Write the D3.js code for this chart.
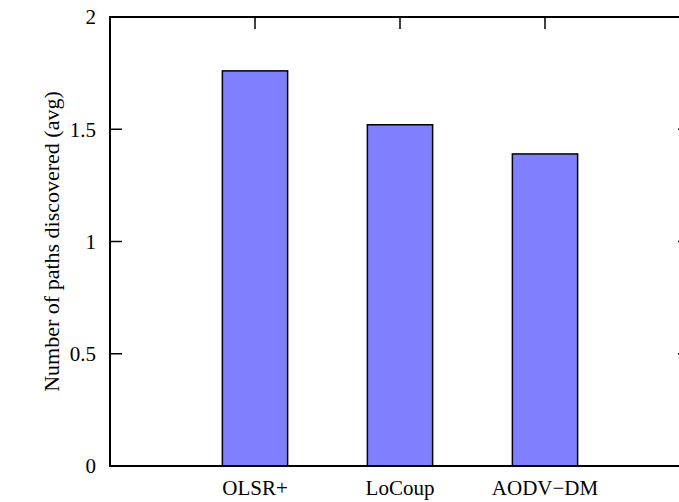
<!DOCTYPE html>
<html lang="en">
  <head>
    <meta charset="UTF-8">
    <script type="text/javascript" src="https://cdn.jsdelivr.net/npm/d3@7"></script>
    <title>Paths discovered</title>
    <style>
      html, body { margin: 0; padding: 0; background: #fff; overflow: hidden; }
      svg { display: block; }
      text { font-family: "Liberation Serif", "Times New Roman", serif; fill: #000; }
    </style>
  </head>
  <body>
    <script type="text/javascript">
      let w = 679;
      let h = 502;

      // data
      let protocols = ['OLSR+', 'LoCoup', 'AODV\u2212DM'];
      let paths = [1.76, 1.52, 1.39];
      let yTicks = [0, 0.5, 1, 1.5, 2];

      // plot area: x runs 0..4, right border falls just outside the window
      let plotLeft = 110, plotRight = 690, plotTop = 17, plotBottom = 466;
      let tickLen = 12;
      let fontSize = 21;

      let xScale = d3.scaleLinear()
                      .domain([0, 4])
                      .range([plotLeft, plotRight]);
      let yScale = d3.scaleLinear()
                      .domain([0, 2])
                      .range([plotBottom, plotTop]);
      let barW = 0.45;

      let svg = d3.select('body')
                  .append('svg')
                  .attr('width', w)
                  .attr('height', h)
                  .attr('viewBox', '0 0 ' + w + ' ' + h)
                  .style('overflow', 'hidden');

      // bars
      svg.selectAll('rect.bar')
          .data(paths)
          .enter()
          .append('rect')
          .attr('class', 'bar')
          .attr('x', (d, i) => xScale(i + 1 - barW / 2))
          .attr('y', d => yScale(d))
          .attr('width', xScale(barW) - xScale(0))
          .attr('height', d => yScale(0) - yScale(d))
          .attr('fill', '#8080ff')
          .attr('stroke', '#000')
          .attr('stroke-width', 1.5);

      // y ticks, left and mirrored on the right
      let ticks = svg.append('g');
      yTicks.forEach(t => {
        ticks.append('line')
          .attr('x1', plotLeft).attr('x2', plotLeft + tickLen)
          .attr('y1', yScale(t)).attr('y2', yScale(t))
          .attr('stroke', '#000').attr('stroke-width', 1.5);
        ticks.append('line')
          .attr('x1', plotRight).attr('x2', plotRight - tickLen)
          .attr('y1', yScale(t)).attr('y2', yScale(t))
          .attr('stroke', '#000').attr('stroke-width', 1.5);
      });

      // x ticks on the top border (bottom ones sit behind bars)
      protocols.forEach((p, i) => {
        ticks.append('line')
          .attr('x1', xScale(i + 1)).attr('x2', xScale(i + 1))
          .attr('y1', plotTop).attr('y2', plotTop + tickLen)
          .attr('stroke', '#000').attr('stroke-width', 1.5);
      });

      // frame
      svg.append('path')
          .attr('d', 'M' + plotRight + ',' + plotTop + 'H' + plotLeft + 'V' + plotBottom + 'H' + plotRight)
          .attr('fill', 'none')
          .attr('stroke', '#000')
          .attr('stroke-width', 2);

      // y tick labels
      svg.selectAll('text.ylab')
          .data(yTicks)
          .enter()
          .append('text')
          .attr('class', 'ylab')
          .attr('x', plotLeft - 14)
          .attr('y', d => yScale(d))
          .attr('dy', '0.35em')
          .attr('text-anchor', 'end')
          .attr('font-size', fontSize)
          .text(d => d);

      // x tick labels
      svg.selectAll('text.xlab')
          .data(protocols)
          .enter()
          .append('text')
          .attr('class', 'xlab')
          .attr('x', (d, i) => xScale(i + 1))
          .attr('y', 495)
          .attr('text-anchor', 'middle')
          .attr('font-size', fontSize)
          .text(d => d);

      // y axis title
      svg.append('text')
          .attr('transform', 'translate(51,' + ((plotTop + plotBottom) / 2) + ') rotate(-90)')
          .attr('text-anchor', 'middle')
          .attr('dy', '0.35em')
          .attr('font-size', 22)
          .text('Number of paths discovered (avg)');
    </script>
  </body>
</html>
